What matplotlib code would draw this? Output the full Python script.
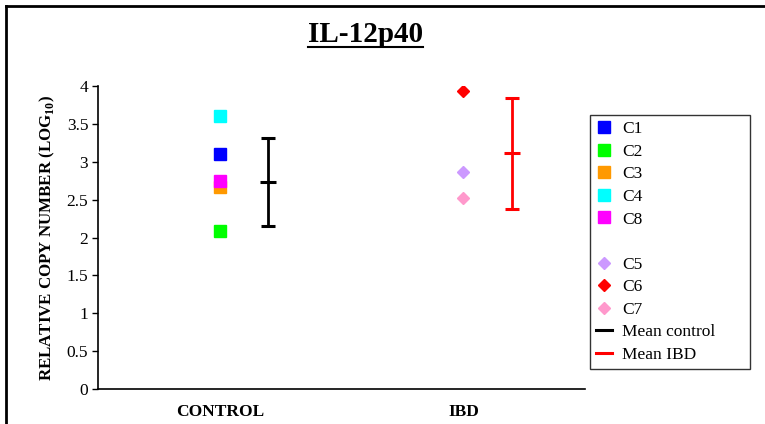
"""IL-12p40 relative copy number: control vs IBD samples with mean +/- SD."""

import matplotlib

matplotlib.use("Agg")
import matplotlib.pyplot as plt  # noqa: E402
from matplotlib.lines import Line2D  # noqa: E402

plt.rcParams["font.family"] = ["Liberation Serif", "DejaVu Serif"]
plt.rcParams["mathtext.fontset"] = "custom"
plt.rcParams["mathtext.rm"] = "Liberation Serif"
plt.rcParams["mathtext.bf"] = "Liberation Serif:bold"

groups = ["CONTROL", "IBD"]

control_names = ["C1", "C2", "C3", "C4", "C8"]
control_values = [3.1, 2.09, 2.67, 3.61, 2.75]
control_colors = ["#0000FF", "#00FF00", "#FF9900", "#00FFFF", "#FF00FF"]

ibd_names = ["C5", "C6", "C7"]
ibd_values = [2.87, 3.93, 2.52]
ibd_colors = ["#CC99FF", "#FF0000", "#FF99CC"]

means = [2.73, 3.11]
errors = [0.58, 0.73]
mean_labels = ["Mean control", "Mean IBD"]
mean_colors = ["black", "#FF0000"]

fig = plt.figure(figsize=(7.65, 4.24), dpi=100)
ax = fig.add_axes([0.128, 0.0825, 0.637, 0.7145])

handles = []
for name, v, c in zip(control_names, control_values, control_colors):
    (h,) = ax.plot([1], [v], "s", ms=8.5, color=c, mec=c, label=name)
    handles.append(h)
handles.append(Line2D([], [], linestyle="none", label=" "))
for name, v, c in zip(ibd_names, ibd_values, ibd_colors):
    (h,) = ax.plot([2], [v], "D", ms=6, color=c, mec=c, label=name)
    handles.append(h)

for i, (m, e, lab, c) in enumerate(zip(means, errors, mean_labels, mean_colors)):
    ax.errorbar([i + 1.2], [m], yerr=[e], fmt="_", ms=11, mew=2.2, color=c,
                ecolor=c, elinewidth=2, capsize=5, capthick=2)
    handles.append(Line2D([], [], color=c, lw=2.2, label=lab))

ax.set_xlim(0.5, 2.5)
ax.set_ylim(0, 4)
ax.set_yticks([0, 0.5, 1, 1.5, 2, 2.5, 3, 3.5, 4])
ax.set_yticklabels(["0", "0.5", "1", "1.5", "2", "2.5", "3", "3.5", "4"])
ax.set_xticks([1, 2])
ax.set_xticklabels(groups, fontweight="bold", fontsize=12.5)
ax.tick_params(axis="x", length=0, pad=11)
ax.tick_params(axis="y", direction="out", length=4, width=1, labelsize=12.5, pad=3)
for s in ["top", "right"]:
    ax.spines[s].set_visible(False)
for s in ["left", "bottom"]:
    ax.spines[s].set_linewidth(1.2)

ax.set_ylabel("RELATIVE COPY NUMBER (LOG$_{\\mathbf{10}}$)", fontweight="bold",
              fontsize=12.2, labelpad=7)

# legend box spans roughly x 590-750 px, y 115-370 px
leg = fig.legend(handles=handles, loc="upper left",
                 bbox_to_anchor=(590 / 765, 1 - 370 / 424, 160 / 765, 255 / 424),
                 mode="expand", frameon=True, fancybox=False, edgecolor="black",
                 fontsize=12.5, handlelength=0.9, handletextpad=0.6,
                 labelspacing=0.37, borderpad=0.35, borderaxespad=0)
leg.get_frame().set_linewidth(1.0)

title = fig.text(0.478, 0.918, "IL-12p40", ha="center", va="center",
                 fontsize=21, fontweight="bold")
fig.canvas.draw()
bb = title.get_window_extent().transformed(fig.transFigure.inverted())
fig.add_artist(Line2D([bb.x0, bb.x1], [bb.y0 + 0.004, bb.y0 + 0.004],
                      transform=fig.transFigure, color="black", lw=1.5))

# cropped outer frame: only the top and left edges are visible
fig.add_artist(Line2D([0.008, 1.0], [0.985, 0.985], transform=fig.transFigure,
                      color="black", lw=2))
fig.add_artist(Line2D([0.008, 0.008], [0.0, 0.985], transform=fig.transFigure,
                      color="black", lw=2))

fig.savefig("out.png", dpi=100)
